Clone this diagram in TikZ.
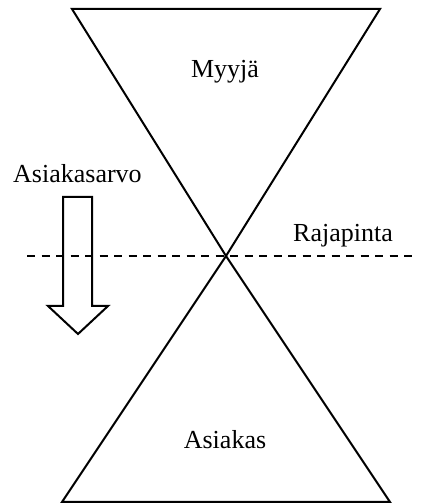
\documentclass[tikz,border=0pt]{standalone}
\usepackage{fontspec}
\setmainfont{Liberation Serif}
\begin{document}
\begin{tikzpicture}[x=1pt,y=1pt,
  shape line/.style={line width=2pt, line join=miter},
  dashline/.style={line width=2pt, dash pattern=on 8pt off 6.5pt},
  lbl/.style={inner sep=0pt, font=\fontsize{26}{30}\selectfont}]
\useasboundingbox (0,0) rectangle (425,504);
\fill[white] (0,0) rectangle (425,504);
\coordinate (apex) at (226,248);
\coordinate (tl) at (72,495);
\coordinate (tr) at (380,495);
\coordinate (bl) at (62,2);
\coordinate (br) at (390,2);
\draw[shape line] (tl) -- (tr) -- (apex) -- cycle;
\draw[shape line] (bl) -- (br) -- (apex) -- cycle;
\coordinate (dl) at (27,248);
\coordinate (dr) at (418,248);
\draw[dashline] (dl) -- (dr);
% block arrow
\draw[shape line] (63,307) -- (92,307) -- (92,198) -- (108,198) -- (78,170) -- (48,198) -- (63,198) -- cycle;
\node[lbl, anchor=base west] (asiakasarvo) at (13,321) {Asiakasarvo};
\node[lbl, anchor=base west] (rajapinta) at (293,262) {Rajapinta};
\node[lbl, anchor=base] (myyja) at (225,426) {Myyjä};
\node[lbl, anchor=base] (asiakas) at (225,56) {Asiakas};
\end{tikzpicture}
\end{document}
